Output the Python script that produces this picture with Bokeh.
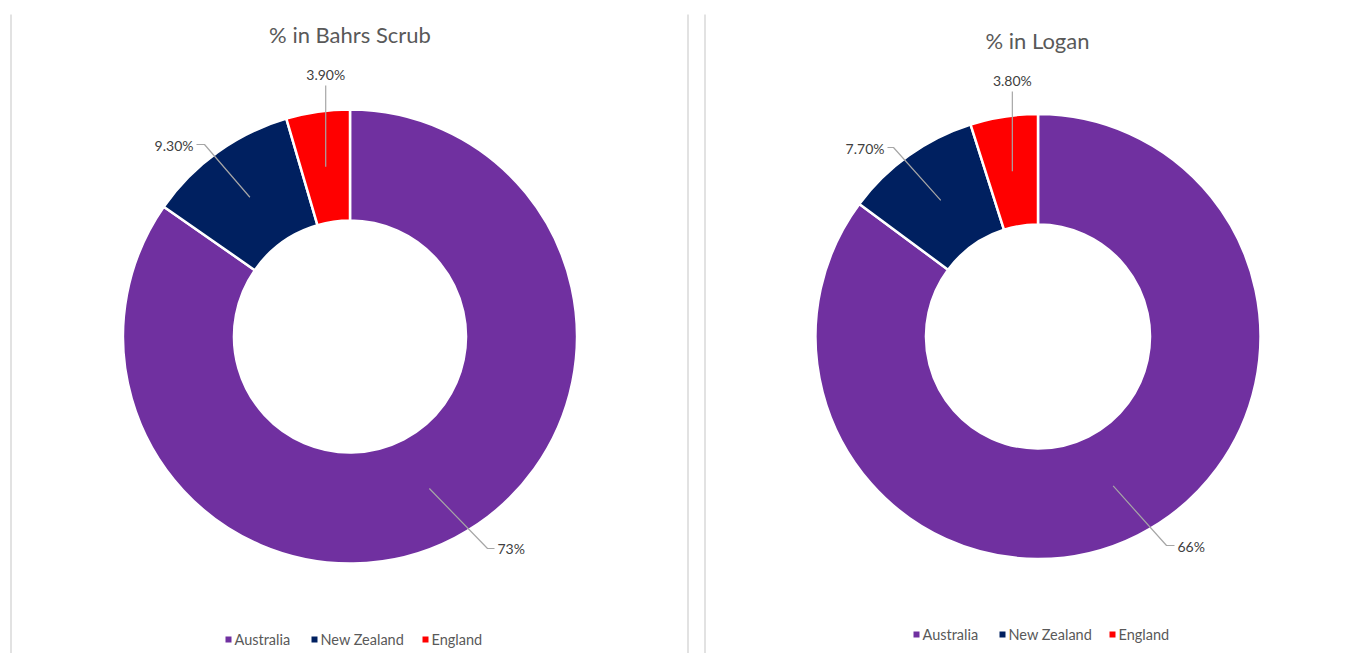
import math
from bokeh.plotting import figure
from bokeh.models import Range1d
from bokeh.core.properties import value
from bokeh.embed import file_html
from bokeh.resources import INLINE

# ---- data ----
categories = ["Australia", "New Zealand", "England"]
colors = ["#7030A0", "#002060", "#FF0000"]
bahrs_values = [73.0, 9.3, 3.9]
bahrs_labels = ["73%", "9.30%", "3.90%"]
logan_values = [66.0, 7.7, 3.8]
logan_labels = ["66%", "7.70%", "3.80%"]
titles = ["% in Bahrs Scrub", "% in Logan"]

W, H = 1359, 653
PAGE_H = 653
FONT = "Lato"

p = figure(width=W, height=H, output_backend="svg", toolbar_location=None,
           x_range=Range1d(0, W), y_range=Range1d(0, H),
           min_border=0)
p.axis.visible = False
p.grid.visible = False
p.outline_line_color = None
p.background_fill_color = "white"


def Y(py):
    return PAGE_H - py


# panel border lines
for bx in [10.5, 687.5, 704.5]:
    p.segment(x0=[bx], y0=[Y(14)], x1=[bx], y1=[Y(660)], line_color="#d9d9d9", line_width=1.5)

# layout per chart: center, radii, title pos, label layout
charts = [
    dict(values=bahrs_values, labels=bahrs_labels, title=titles[0],
         cx=349.5, cy=336, r_out=227, r_in=116, title_xy=(349.5, 34),
         # per slice: (elbow point, label anchor point, text point, align)
         lab=[((487, 548), (494, 548), (497, 548), "left"),
              ((204, 144), (196, 144), (193, 145), "right"),
              (None, None, (None, 74), "center")],
         legend_y=639, legend_x=[228, 314, 425]),
    dict(values=logan_values, labels=logan_labels, title=titles[1],
         cx=1037.5, cy=336, r_out=222.5, r_in=112, title_xy=(1037, 40),
         lab=[((1166, 545), (1174, 545), (1177, 546), "left"),
              ((893, 147), (887, 147), (884, 148), "right"),
              (None, None, (None, 80), "center")],
         legend_y=634, legend_x=[916, 1002, 1112]),
]

for ch in charts:
    vals = ch["values"]
    total = sum(vals)
    cx, cy = ch["cx"], Y(ch["cy"])
    cum = 0.0
    starts, ends, mids = [], [], []
    for v in vals:
        a_end = math.pi / 2 - cum / total * 2 * math.pi
        cum += v
        a_start = math.pi / 2 - cum / total * 2 * math.pi
        starts.append(a_start)
        ends.append(a_end)
        mids.append((a_start + a_end) / 2)
    p.annular_wedge(x=[cx] * len(vals), y=[cy] * len(vals),
                    inner_radius=ch["r_in"], outer_radius=ch["r_out"],
                    start_angle=starts, end_angle=ends, direction="anticlock",
                    fill_color=colors, line_color="white", line_width=2.5)
    r_mid = (ch["r_in"] + ch["r_out"]) / 2
    for i, (m, lbl) in enumerate(zip(mids, ch["labels"])):
        px = cx + r_mid * math.cos(m)
        py = cy + r_mid * math.sin(m)
        elbow, anchor, txy, align = ch["lab"][i]
        if elbow is None:
            lx = px
            ly = Y(txy[1])
            p.line(x=[px, px], y=[py, ly - 11], line_color="#a6a6a6", line_width=1.2)
            p.text(x=[lx], y=[ly], text=[lbl], text_align="center", text_baseline="middle",
                   text_font=value(FONT), text_font_size="14px", text_color="#404040")
        else:
            p.line(x=[px, elbow[0], anchor[0]], y=[py, Y(elbow[1]), Y(anchor[1])],
                   line_color="#a6a6a6", line_width=1.2)
            p.text(x=[txy[0]], y=[Y(txy[1])], text=[lbl], text_align=align, text_baseline="middle",
                   text_font=value(FONT), text_font_size="14px", text_color="#404040")
    # title
    p.text(x=[ch["title_xy"][0]], y=[Y(ch["title_xy"][1])], text=[ch["title"]],
           text_align="center", text_baseline="middle", text_font=value(FONT),
           text_font_size="22px", text_color="#595959")
    # legend
    ly = Y(ch["legend_y"])
    p.scatter(x=ch["legend_x"], y=[ly] * 3, marker="square", size=6,
              fill_color=colors, line_color=None)
    p.text(x=[lx + 6 for lx in ch["legend_x"]], y=[ly] * 3, text=categories,
           text_align="left", text_baseline="middle", text_font=value(FONT),
           text_font_size="14.5px", text_color="#595959")

open("out.html", "w").write(file_html(p, INLINE))
